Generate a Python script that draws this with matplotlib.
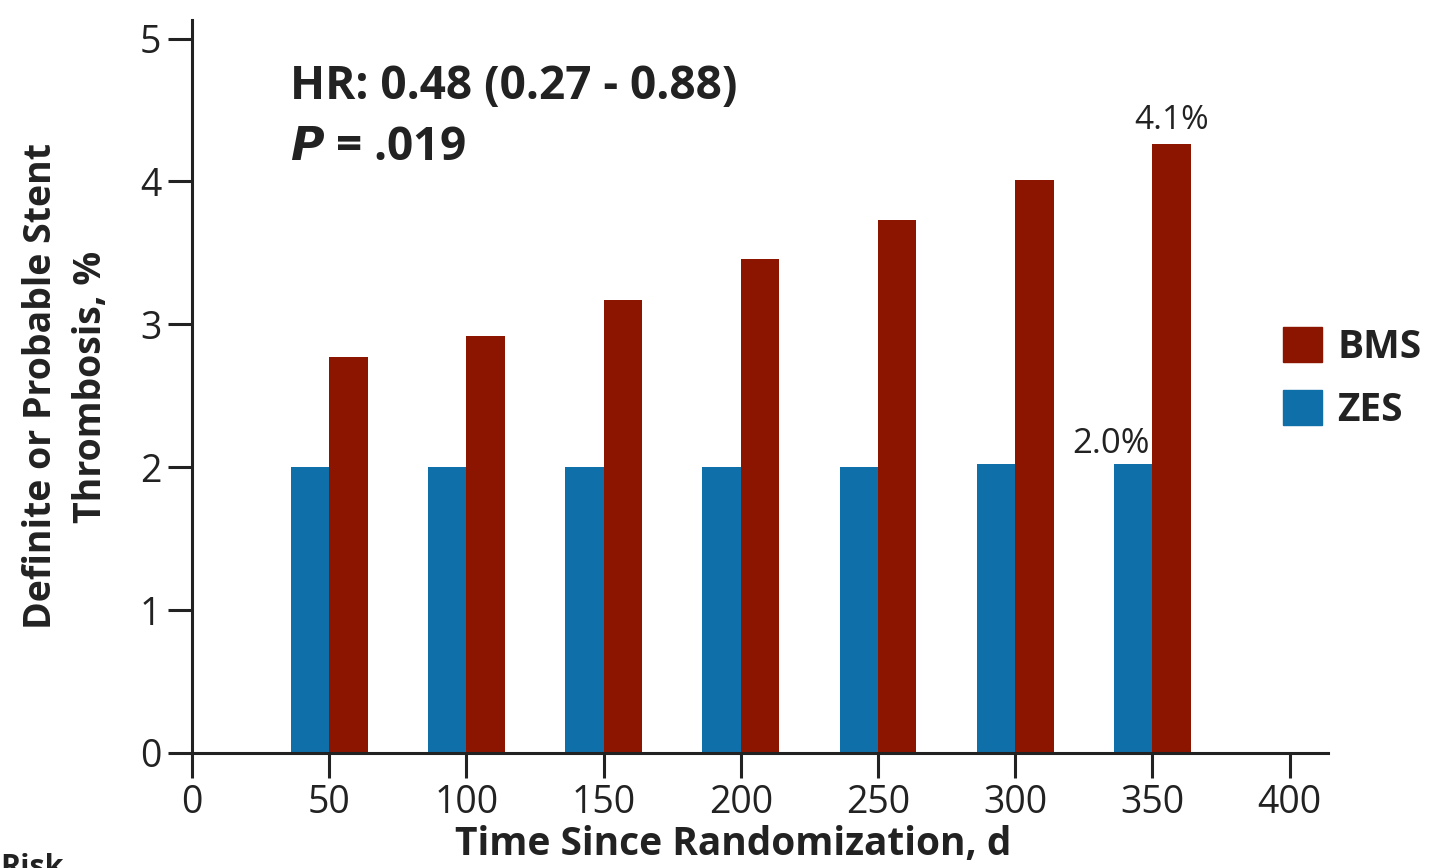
import matplotlib
matplotlib.use("Agg")
import matplotlib.pyplot as plt
from matplotlib.patches import Patch

plt.rcParams['font.family'] = ['Open Sans', 'DejaVu Sans']

# Data
days = [50, 100, 150, 200, 250, 300, 350]
bms = [2.77, 2.92, 3.17, 3.46, 3.73, 4.01, 4.26]
zes = [2.00, 2.00, 2.00, 2.00, 2.00, 2.02, 2.02]
xticks = [0, 50, 100, 150, 200, 250, 300, 350, 400]
yticks = [0, 1, 2, 3, 4, 5]

bms_color = "#8c1500"
zes_color = "#0f6fa8"
text_color = "#222222"
w = 14

fig = plt.figure(figsize=(14.33, 8.68), dpi=100)
ax = fig.add_axes([0.134, 0.1325, 0.7927, 0.8445])

ax.bar([d - w / 2 for d in days], zes, width=w, color=zes_color, zorder=2)
ax.bar([d + w / 2 for d in days], bms, width=w, color=bms_color, zorder=2)

ax.set_xlim(0, 414)
ax.set_ylim(0, 5.13)
ax.set_xticks(xticks)
ax.set_yticks(yticks)

for s in ['top', 'right']:
    ax.spines[s].set_visible(False)
for s in ['left', 'bottom']:
    ax.spines[s].set_linewidth(2.2)
    ax.spines[s].set_color(text_color)
ax.tick_params(axis='x', length=18, width=2.2, labelsize=27, pad=4, colors=text_color)
ax.tick_params(axis='y', length=17, width=2.2, labelsize=27, pad=5, colors=text_color)

ax.set_xlabel("Time Since Randomization, d", fontsize=28, fontweight='bold',
              color=text_color, labelpad=1)
ax.xaxis.set_label_coords(0.476, -0.098)
ax.set_ylabel("Definite or Probable Stent\nThrombosis, %", fontsize=27,
              fontweight='bold', color=text_color, labelpad=22, linespacing=1.4)

# annotations
ax.text(35.7, 4.58, "HR: 0.48 (0.27 - 0.88)", fontsize=33, fontweight='bold',
        color=text_color, va='baseline')
ax.text(35.7, 4.15, r"$\bfit{P}$ = .019", fontsize=33, fontweight='bold',
        color=text_color, va='baseline')
ax.text(days[-1] + w / 2, bms[-1] + 0.11, "4.1%", fontsize=24, ha='center',
        va='baseline', color=text_color)
ax.text(days[-1] - 1, zes[-1] + 0.08, "2.0%", fontsize=25, ha='right',
        va='baseline', color=text_color)

handles = [Patch(color=bms_color, label="BMS"), Patch(color=zes_color, label="ZES")]
fig.legend(handles=handles, loc='upper left', bbox_to_anchor=(1283 / 1433, 1 - 327 / 868),
           frameon=False, prop={'weight': 'bold', 'size': 28},
           borderpad=0, borderaxespad=0,
           handlelength=1.0, handleheight=1.0, handletextpad=0.4, labelspacing=0.6,
           labelcolor=text_color)

fig.text(0.0, 0.0173, "Risk", fontsize=22, fontweight='bold', color=text_color, va='top')

fig.savefig("out.png", dpi=100)
